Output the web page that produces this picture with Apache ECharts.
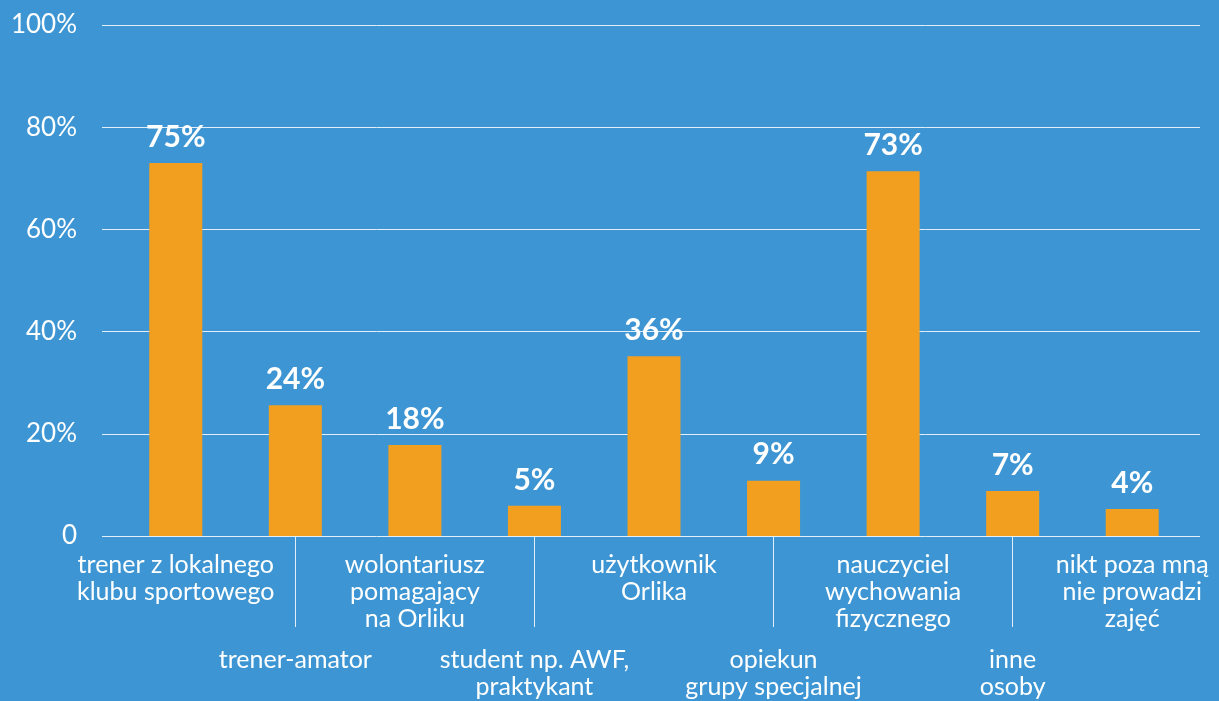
<!DOCTYPE html>
<html>
<head>
<meta charset="utf-8">
<script src="https://cdn.jsdelivr.net/npm/echarts@6/dist/echarts.min.js"></script>
<style>
  html, body { margin: 0; padding: 0; background: #3d96d3; }
  #chart { width: 1219px; height: 701px; }
</style>
</head>
<body>
<div id="chart"></div>
<script>
var categories = [
  'trener z lokalnego\nklubu sportowego',
  'trener-amator',
  'wolontariusz\npomagający\nna Orliku',
  'student np. AWF,\npraktykant',
  'użytkownik\nOrlika',
  'opiekun\ngrupy specjalnej',
  'nauczyciel\nwychowania\nfizycznego',
  'inne\nosoby',
  'nikt poza mną\nnie prowadzi\nzajęć'
]
// bar heights as drawn in the picture
var barValues = [73, 25.6, 17.8, 5.9, 35.2, 10.8, 71.4, 8.8, 5.3]
// percentages printed above the bars
var labelValues = [75, 24, 18, 5, 36, 9, 73, 7, 4]
var yTicks = [0, 20, 40, 60, 80, 100]

var colors = ['#f29e1f', '#ffffff']
var font = 'Lato, "Noto Sans", sans-serif'

var chart = echarts.init(document.getElementById('chart'))
var option = {
  backgroundColor: '#3d96d3',
  animation: false,
  grid: [
    { left: 102, right: 19, top: 25, bottom: 165 }, // gridlines + y labels
    { left: 116, right: 27, top: 25, bottom: 165 } // bars
  ],
  xAxis: [
    { type: 'category', gridIndex: 0, data: categories, show: false },
    {
      type: 'category',
      gridIndex: 1,
      data: categories,
      axisLine: { show: false },
      axisTick: {
        show: true,
        alignWithLabel: true,
        length: 91,
        interval: function (i) { return i % 2 === 1 },
        lineStyle: { color: 'rgba(255,255,255,0.85)', width: 1 }
      },
      axisLabel: {
        interval: 0,
        margin: 15,
        color: colors[1],
        fontFamily: font,
        fontSize: 25,
        verticalAlign: 'top',
        formatter: function (v, i) {
          if (i % 2 === 1) return '{g| }\n{t|' + v + '}'
          return '{t|' + v + '}'
        },
        rich: {
          g: { lineHeight: 95, fontSize: 10 },
          t: { lineHeight: 27, fontSize: 25, color: '#fff', fontFamily: font, align: 'center' }
        }
      }
    }
  ],
  yAxis: [
    {
      type: 'value',
      gridIndex: 0,
      min: 0,
      max: 100,
      interval: 20,
      axisLine: { show: false },
      axisTick: { show: false },
      splitLine: { lineStyle: { color: 'rgba(255,255,255,0.85)', width: 1 } },
      axisLabel: {
        margin: 25,
        color: colors[1],
        fontFamily: font,
        fontSize: 26,
        formatter: function (v) {
          if (yTicks.indexOf(v) < 0) return ''
          return v === 0 ? '0' : v + '%'
        }
      }
    },
    { type: 'value', gridIndex: 1, min: 0, max: 100, interval: 20, show: false }
  ],
  series: [
    {
      type: 'bar',
      xAxisIndex: 1,
      yAxisIndex: 1,
      barWidth: 53,
      itemStyle: { color: colors[0] },
      label: {
        show: true,
        position: 'top',
        distance: 11,
        color: '#fff',
        fontFamily: font,
        fontWeight: 'bold',
        fontSize: 30,
        formatter: function (p) { return labelValues[p.dataIndex] + '%' }
      },
      data: barValues
    }
  ]
}
chart.setOption(option)
</script>
</body>
</html>
